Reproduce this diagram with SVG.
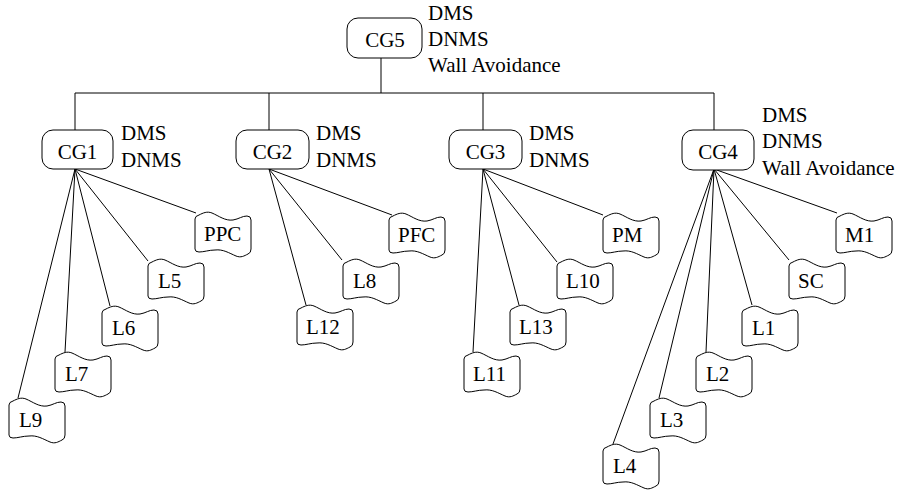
<svg xmlns="http://www.w3.org/2000/svg" xmlns:xlink="http://www.w3.org/1999/xlink" width="907" height="491" viewBox="0 0 907 491">
  <style>
    .edge { stroke: #000; stroke-width: 1; fill: none; }
    .cg { fill: #fff; stroke: #000; stroke-width: 1; }
    .leaf { fill: #fff; stroke: #000; stroke-width: 1; }
    text { font-family: "Liberation Serif", "DejaVu Serif", "Times New Roman", serif; font-size: 21px; fill: #000; }
    .mid { text-anchor: middle; }
  </style>
  <defs>
    <!-- wavy tape-shaped leaf box, origin at left edge / top crest -->
    <path id="leafShape" d="M 0,7 Q 0,4 4,3 C 8,1 12,-1 17,1 C 24,4 30,9 38,8 C 44,7 47,4 52,4 Q 56,4 56,8 L 56,37 Q 56,41 53,42 C 49,44 46,46 41,44 C 34,41 28,37 20,38 C 14,38 9,40 4,40 Q 0,40 0,37 Z"/>
  </defs>

  <g id="connectors" class="edge">
    <!-- trunk -->
    <line x1="381" y1="58" x2="381" y2="93"/>
    <line x1="75" y1="93" x2="714" y2="93"/>
    <line x1="75" y1="93" x2="75" y2="130"/>
    <line x1="269" y1="93" x2="269" y2="130"/>
    <line x1="483" y1="93" x2="483" y2="130"/>
    <line x1="714" y1="93" x2="714" y2="130"/>
    <!-- CG1 fan -->
    <line x1="75" y1="169" x2="196" y2="213"/>
    <line x1="75" y1="169" x2="148" y2="261"/>
    <line x1="75" y1="169" x2="110" y2="306"/>
    <line x1="75" y1="169" x2="65" y2="352"/>
    <line x1="75" y1="169" x2="18" y2="398"/>
    <!-- CG2 fan -->
    <line x1="269" y1="169" x2="392" y2="215"/>
    <line x1="269" y1="169" x2="342" y2="260"/>
    <line x1="269" y1="169" x2="306" y2="305"/>
    <!-- CG3 fan -->
    <line x1="483" y1="169" x2="603" y2="215"/>
    <line x1="483" y1="169" x2="557" y2="262"/>
    <line x1="483" y1="169" x2="519" y2="305"/>
    <line x1="483" y1="169" x2="473" y2="352"/>
    <!-- CG4 fan -->
    <line x1="714" y1="169" x2="837" y2="213"/>
    <line x1="714" y1="169" x2="789" y2="260"/>
    <line x1="714" y1="169" x2="752" y2="305"/>
    <line x1="714" y1="169" x2="706" y2="352"/>
    <line x1="714" y1="169" x2="659" y2="398"/>
    <line x1="714" y1="169" x2="613" y2="444"/>
  </g>

  <g id="CG5">
    <rect class="cg" x="347" y="18" width="75" height="40" rx="11"/>
    <text class="mid" x="385" y="47">CG5</text>
    <text x="428" y="20">DMS</text>
    <text x="428" y="46">DNMS</text>
    <text x="428" y="72">Wall Avoidance</text>
  </g>
  <g id="CG1">
    <rect class="cg" x="42" y="130" width="71" height="39" rx="11"/>
    <text class="mid" x="77.5" y="159">CG1</text>
    <text x="121" y="140">DMS</text>
    <text x="121" y="167">DNMS</text>
  </g>
  <g id="CG2">
    <rect class="cg" x="236" y="130" width="73" height="39" rx="11"/>
    <text class="mid" x="272.5" y="159">CG2</text>
    <text x="316" y="140">DMS</text>
    <text x="316" y="167">DNMS</text>
  </g>
  <g id="CG3">
    <rect class="cg" x="449" y="130" width="73" height="39" rx="11"/>
    <text class="mid" x="485.5" y="159">CG3</text>
    <text x="529" y="140">DMS</text>
    <text x="529" y="167">DNMS</text>
  </g>
  <g id="CG4">
    <rect class="cg" x="682" y="130" width="72" height="40" rx="11"/>
    <text class="mid" x="718" y="159">CG4</text>
    <text x="762" y="122">DMS</text>
    <text x="762" y="148">DNMS</text>
    <text x="762" y="175">Wall Avoidance</text>
  </g>

  <g id="PPC"><use xlink:href="#leafShape" class="leaf" x="195" y="212"/><text x="204" y="241">PPC</text></g>
  <g id="L5"><use xlink:href="#leafShape" class="leaf" x="148" y="259"/><text x="158" y="288">L5</text></g>
  <g id="L6"><use xlink:href="#leafShape" class="leaf" x="102" y="306"/><text x="112" y="335">L6</text></g>
  <g id="L7"><use xlink:href="#leafShape" class="leaf" x="55" y="352"/><text x="65" y="381">L7</text></g>
  <g id="L9"><use xlink:href="#leafShape" class="leaf" x="9" y="398"/><text x="19" y="427">L9</text></g>

  <g id="PFC"><use xlink:href="#leafShape" class="leaf" x="389" y="213"/><text x="398" y="242">PFC</text></g>
  <g id="L8"><use xlink:href="#leafShape" class="leaf" x="343" y="259"/><text x="353" y="288">L8</text></g>
  <g id="L12"><use xlink:href="#leafShape" class="leaf" x="297" y="305"/><text x="306" y="334">L12</text></g>

  <g id="PM"><use xlink:href="#leafShape" class="leaf" x="603" y="213"/><text x="612" y="242">PM</text></g>
  <g id="L10"><use xlink:href="#leafShape" class="leaf" x="557" y="259"/><text x="566" y="288">L10</text></g>
  <g id="L13"><use xlink:href="#leafShape" class="leaf" x="510" y="305"/><text x="519" y="334">L13</text></g>
  <g id="L11"><use xlink:href="#leafShape" class="leaf" x="464" y="352"/><text x="473" y="381">L11</text></g>

  <g id="M1"><use xlink:href="#leafShape" class="leaf" x="836" y="213"/><text x="845" y="242">M1</text></g>
  <g id="SC"><use xlink:href="#leafShape" class="leaf" x="789" y="259"/><text x="798" y="288">SC</text></g>
  <g id="L1"><use xlink:href="#leafShape" class="leaf" x="742" y="306"/><text x="752" y="335">L1</text></g>
  <g id="L2"><use xlink:href="#leafShape" class="leaf" x="696" y="352"/><text x="706" y="381">L2</text></g>
  <g id="L3"><use xlink:href="#leafShape" class="leaf" x="650" y="398"/><text x="660" y="427">L3</text></g>
  <g id="L4"><use xlink:href="#leafShape" class="leaf" x="603" y="444"/><text x="613" y="473">L4</text></g>
</svg>
